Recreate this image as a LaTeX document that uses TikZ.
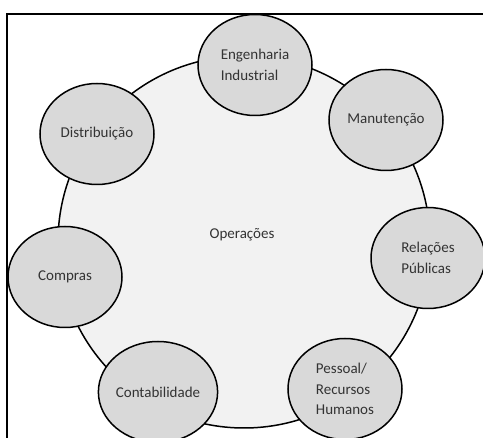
\documentclass[tikz,border=0pt]{standalone}
\usepackage{fontspec}
\setmainfont{Carlito}
\usetikzlibrary{shapes.geometric}

\definecolor{coreFill}{HTML}{F2F2F2}
\definecolor{deptFill}{HTML}{D9D9D9}
\definecolor{labelText}{HTML}{333333}

\tikzset{
  dept/.style={ellipse, draw=black, line width=1.5pt, fill=deptFill,
    minimum width=114pt, minimum height=101pt, inner sep=0pt,
    align=left, text=labelText, font=\fontsize{15}{20.5}\selectfont},
  core/.style={circle, draw=black, line width=1.5pt, fill=coreFill,
    minimum size=372pt, inner sep=0pt, text=labelText,
    font=\fontsize{15}{20.5}\selectfont}
}

\begin{document}
\begin{tikzpicture}[x=1pt,y=-1pt]
  \useasboundingbox (0,0) rectangle (483,438);
  \begin{scope}
  \clip (0,0) rectangle (483,438);
  \node[core] (ops) at (244,242) {};
  \node[labelText, font=\fontsize{15}{20.5}\selectfont] (opsText) at (242,235) {Operações};
  \node[dept] (eng) at (255,65) {Engenharia\\Industrial};
  \node[dept] (man) at (386,120) {Manutenção};
  \node[dept] (rel) at (428,258) {Relações\\Públicas};
  \node[dept] (pes) at (345,389) {Pessoal/\\Recursos\\Humanos};
  \node[dept] (con) at (158,392) {Contabilidade};
  \node[dept] (com) at (65,277) {Compras};
  \node[dept] (dis) at (97,134) {Distribuição};
  \end{scope}
  % frame
  \draw[black, line width=2pt] (7,438) -- (7,14) -- (483,14);
\end{tikzpicture}
\end{document}
